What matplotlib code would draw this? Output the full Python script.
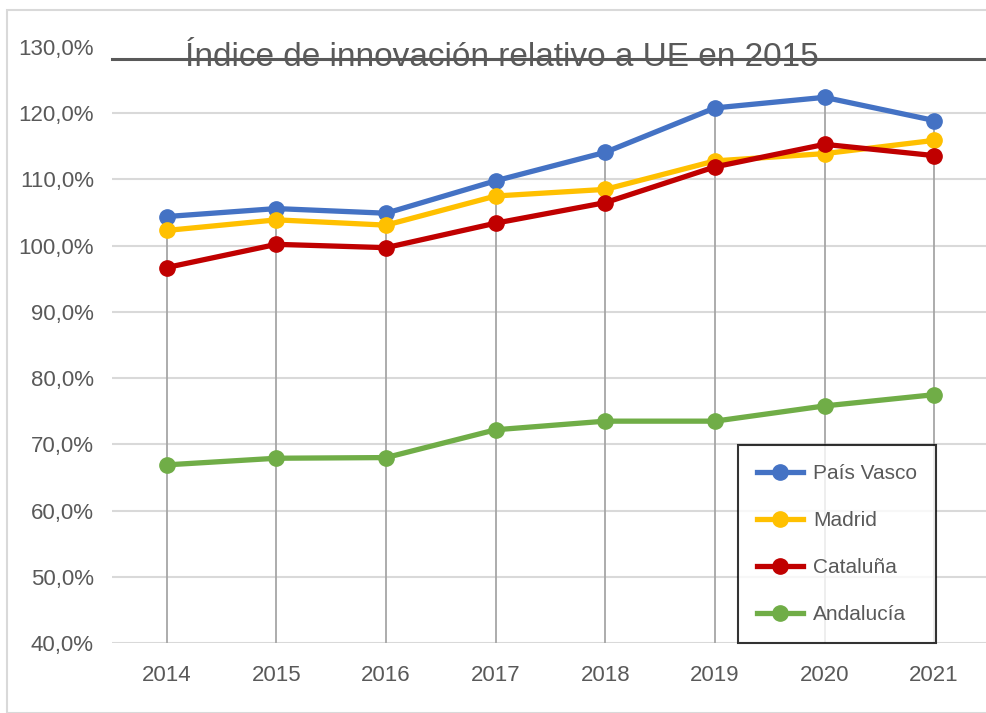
import matplotlib
matplotlib.use("Agg")
import matplotlib.pyplot as plt
from matplotlib.patches import Rectangle
from matplotlib.lines import Line2D
from matplotlib.ticker import FuncFormatter

years = ["2014", "2015", "2016", "2017", "2018", "2019", "2020", "2021"]
pais_vasco = [104.4, 105.6, 104.9, 109.8, 114.1, 120.8, 122.4, 118.9]
madrid = [102.3, 103.9, 103.1, 107.5, 108.5, 112.8, 113.9, 115.9]
cataluna = [96.7, 100.2, 99.7, 103.4, 106.5, 111.9, 115.3, 113.6]
andalucia = [66.9, 67.9, 68.0, 72.2, 73.5, 73.5, 75.8, 77.5]

series = [("País Vasco", pais_vasco, "#4472C4"),
          ("Madrid", madrid, "#FFC000"),
          ("Cataluña", cataluna, "#C00000"),
          ("Andalucía", andalucia, "#70AD47")]

plt.rcParams['font.family'] = ['Liberation Sans', 'DejaVu Sans']
grey = "#595959"

fig = plt.figure(figsize=(9.87, 7.13), dpi=100)
ax = fig.add_axes([112/987, 1-643/713, 877/987, (643-47)/713])

# chart area border
fig.patches.append(Rectangle((7/987, 0), 1, 1-10/713, transform=fig.transFigure,
                             fill=False, edgecolor="#D9D9D9", linewidth=1.5))

x = list(range(len(years)))

# drop lines from highest point to the axis
tops = [max(vals) for vals in zip(*[s[1] for s in series])]
ax.vlines(x, 40, tops, color="#A6A6A6", linewidth=1.3, zorder=1)

for name, vals, col in series:
    ax.plot(x, vals, color=col, linewidth=3.8, marker="o", markersize=11,
            label=name, zorder=3)

ax.set_xlim(-0.5, 7.5)
ax.set_ylim(40, 130)
ax.set_yticks(range(40, 131, 10))
ax.yaxis.set_major_formatter(FuncFormatter(lambda v, p: f"{v:.1f}%".replace(".", ",")))
ax.set_xticks(x)
ax.set_xticklabels(years)
ax.tick_params(length=0, labelsize=16, colors=grey)
ax.tick_params(axis="x", pad=16)
ax.tick_params(axis="y", pad=13)
for v in range(40, 121, 10):
    ax.axhline(v, color="#D9D9D9", linewidth=1.5, zorder=0)
for sp in ax.spines.values():
    sp.set_visible(False)

# title with the line across it
fig.add_artist(Line2D([112/987, 1.0], [1-59/713, 1-59/713], transform=fig.transFigure,
                      color=grey, linewidth=2.2))
fig.text(502/987, 1-58/713, "Índice de innovación relativo a UE en 2015",
         ha="center", va="center", fontsize=24, color=grey)

leg = ax.legend(loc="lower left", bbox_to_anchor=(738/987, 1-643/713, 198/987, 200/713),
                bbox_transform=fig.transFigure, mode="expand", frameon=True,
                fancybox=False, edgecolor="black", fontsize=15, labelspacing=1.35,
                handlelength=2.2, handletextpad=0.5, borderpad=0.9, borderaxespad=0)
leg.get_frame().set_linewidth(1.5)
for t in leg.get_texts():
    t.set_color(grey)

fig.savefig("out.png", dpi=100)
